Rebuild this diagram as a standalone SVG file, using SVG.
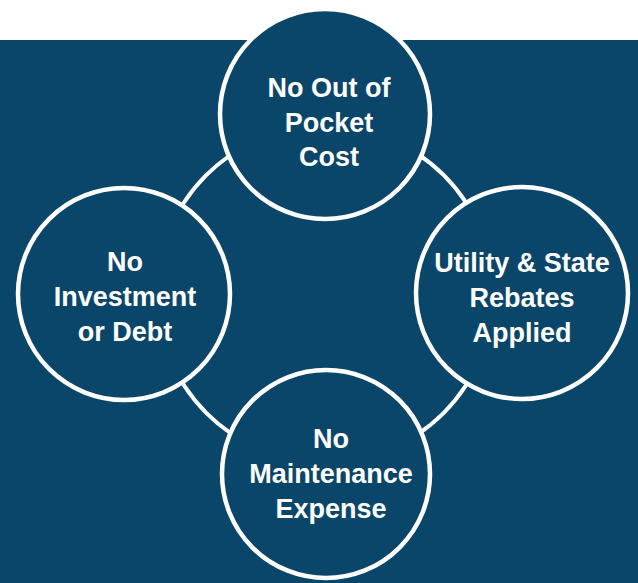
<svg xmlns="http://www.w3.org/2000/svg" width="638" height="583" viewBox="0 0 638 583">
<style>
.node{fill:#0A4669;stroke:#FFFFFF;stroke-width:4.5}
.ring{fill:none;stroke:#FFFFFF;stroke-width:4}
.lbl{font-family:"Liberation Sans",Arial,sans-serif;font-weight:bold;font-size:27px;fill:#FFFFFF;text-anchor:middle}
</style>
<rect x="0" y="0" width="638" height="583" fill="#FFFFFF"/>
<rect x="0" y="40" width="638" height="543" fill="#0A4669"/>
<g id="connectors">
<circle class="ring" cx="325" cy="294" r="168"/>
</g>
<g id="node-top">
<circle class="node" cx="325" cy="114" r="105"/>
<text class="lbl" x="329" y="97">No Out of</text>
<text class="lbl" x="329" y="132">Pocket</text>
<text class="lbl" x="329" y="166">Cost</text>
</g>
<g id="node-left">
<circle class="node" cx="124" cy="294" r="106"/>
<text class="lbl" x="125" y="271">No</text>
<text class="lbl" x="125" y="306">Investment</text>
<text class="lbl" x="125" y="341">or Debt</text>
</g>
<g id="node-right">
<circle class="node" cx="522" cy="293" r="106"/>
<text class="lbl" x="522" y="272">Utility &amp; State</text>
<text class="lbl" x="522" y="307">Rebates</text>
<text class="lbl" x="522" y="342">Applied</text>
</g>
<g id="node-bottom">
<circle class="node" cx="326" cy="474" r="104"/>
<text class="lbl" x="331" y="448">No</text>
<text class="lbl" x="331" y="483">Maintenance</text>
<text class="lbl" x="331" y="518">Expense</text>
</g>
</svg>
